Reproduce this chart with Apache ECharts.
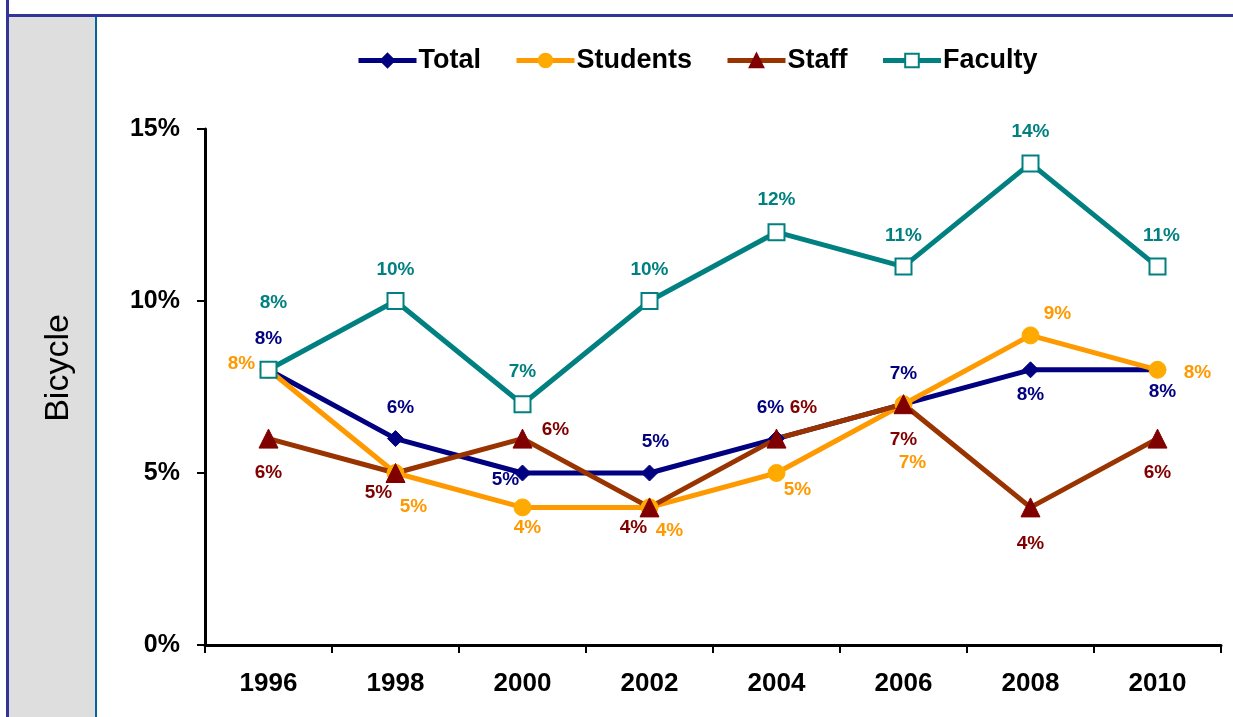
<!DOCTYPE html>
<html>
<head>
<meta charset="utf-8">
<script src="https://cdn.jsdelivr.net/npm/echarts@6/dist/echarts.min.js"></script>
<style>
  html, body { margin: 0; padding: 0; background: #fff; }
  #main { width: 1233px; height: 717px; }
</style>
</head>
<body>
<div id="main"></div>
<script>
// data
const years = ['1996', '1998', '2000', '2002', '2004', '2006', '2008', '2010'];
const total = [8, 6, 5, 5, 6, 7, 8, 8];
const students = [8, 5, 4, 4, 5, 7, 9, 8];
const staff = [6, 5, 6, 4, 6, 7, 4, 6];
const faculty = [8, 10, 7, 10, 12, 11, 14, 11];
const yTicks = [0, 5, 10, 15];

// label offsets (px from the marker), one per point
const totalOff = [[0, -31], [5, -31], [-17, 7], [6, -31], [-6, -31], [0, -30], [0, 25], [5, 22]];
const studentsOff = [[-27, -6], [18, 34], [5, 20], [20, 23], [21, 17], [9, 59], [27, -22], [40, 3]];
const staffOff = [[0, 34], [-17, 20], [33, -9], [-16, 20], [27, -31], [0, 36], [0, 36], [0, 34]];
const facultyOff = [[5, -67], [0, -31], [0, -32], [0, -31], [0, -32], [0, -31], [0, -32], [4, -31]];

function points(values, offs) {
  return values.map((v, i) => ({
    value: v,
    label: { offset: offs[i] }
  }));
}

function makeSeries(name, values, offs, lineColor, markColor, labelColor, symbol, size, extra) {
  return Object.assign({
    name: name,
    type: 'line',
    data: points(values, offs),
    symbol: symbol,
    symbolSize: size,
    lineStyle: { color: lineColor, width: 5 },
    itemStyle: { color: markColor, borderColor: markColor, borderWidth: 1 },
    label: {
      show: true,
      position: 'inside',
      formatter: '{c}%',
      color: labelColor,
      fontFamily: 'Liberation Sans',
      fontWeight: 'bold',
      fontSize: 19
    },
    emphasis: { disabled: true },
    animation: false
  }, extra || {});
}

const chart = echarts.init(document.getElementById('main'));
chart.setOption({
  animation: false,
  graphic: [
    { type: 'rect', shape: { x: 9, y: 16, width: 87, height: 701 }, style: { fill: '#dedede' }, z: -10 },
    { type: 'rect', shape: { x: 6, y: 0, width: 3, height: 717 }, style: { fill: '#333399' } },
    { type: 'rect', shape: { x: 6, y: 14, width: 1227, height: 3 }, style: { fill: '#333399' } },
    { type: 'rect', shape: { x: 95, y: 17, width: 2, height: 700 }, style: { fill: '#006699' } },
    {
      type: 'text', x: 59, y: 368, rotation: Math.PI / 2,
      style: {
        text: 'Bicycle', fill: '#000', font: '34px "Liberation Sans"',
        align: 'center', verticalAlign: 'middle'
      }
    }
  ],
  legend: {
    top: 42,
    left: 351,
    itemWidth: 58,
    itemHeight: 17,
    itemGap: 33,
    lineStyle: { width: 5 },
    textStyle: { fontFamily: 'Liberation Sans', fontWeight: 'bold', fontSize: 27, color: '#000', padding: [0, 0, 0, -3] },
    data: ['Total', 'Students', 'Staff', 'Faculty']
  },
  grid: { left: 205, right: 12, top: 129, bottom: 72, containLabel: false },
  xAxis: {
    type: 'category',
    data: years,
    boundaryGap: true,
    axisLine: { lineStyle: { color: '#000', width: 3 } },
    axisTick: { show: true, length: 8, lineStyle: { color: '#000', width: 2 } },
    axisLabel: {
      color: '#000', fontFamily: 'Liberation Sans', fontWeight: 'bold', fontSize: 26, margin: 26
    },
    splitLine: { show: false }
  },
  yAxis: {
    type: 'value',
    min: yTicks[0],
    max: yTicks[yTicks.length - 1],
    interval: 5,
    axisLine: { show: true, lineStyle: { color: '#000', width: 3 } },
    axisTick: { show: true, length: 8, lineStyle: { color: '#000', width: 2 } },
    axisLabel: {
      color: '#000', fontFamily: 'Liberation Sans', fontWeight: 'bold', fontSize: 25,
      margin: 25, formatter: '{value}%'
    },
    splitLine: { show: false }
  },
  series: [
    makeSeries('Total', total, totalOff, '#000080', '#000080', '#000080', 'diamond', 16),
    makeSeries('Students', students, studentsOff, '#ff9900', '#ffaa00', '#ff9900', 'circle', 17),
    makeSeries('Staff', staff, staffOff, '#993300', '#800000', '#800000', 'triangle', 19),
    makeSeries('Faculty', faculty, facultyOff, '#008080', '#ffffff', '#008080', 'rect', 16, {
      itemStyle: { color: '#ffffff', borderColor: '#008080', borderWidth: 2 }
    })
  ]
});
</script>
</body>
</html>
